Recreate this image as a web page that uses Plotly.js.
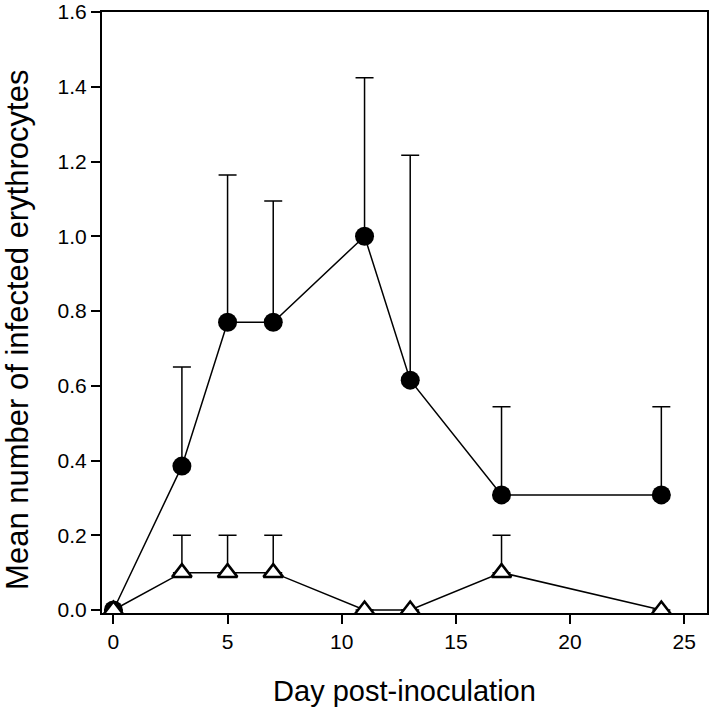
<!DOCTYPE html>
<html>
<head>
<meta charset="utf-8">
<script src="https://cdn.plot.ly/plotly-3.0.1.min.js"></script>
<style>
  html, body { margin: 0; padding: 0; background: #fff; }
  #chart { width: 709px; height: 709px; }
</style>
</head>
<body>
<div id="chart"></div>
<script>
// days sampled
const days = [0, 3, 5, 7, 11, 13, 17, 24];

// infected group (filled circles)
const infectedMean = [0, 0.385, 0.77, 0.77, 1.0, 0.615, 0.308, 0.308];
const infectedErr = [0, 0.265, 0.394, 0.324, 0.424, 0.602, 0.236, 0.236];

// control group (open triangles)
const controlMean = [0, 0.1, 0.1, 0.1, 0, 0, 0.1, 0];
const controlErr = [0, 0.1, 0.1, 0.1, 0, 0, 0.1, 0];

const infected = {
    x: days,
    y: infectedMean,
    type: 'scatter',
    mode: 'lines+markers',
    line: { color: '#000', width: 1.5 },
    marker: { symbol: 'circle', size: 19, color: '#000' },
    error_y: {
        type: 'data',
        symmetric: false,
        array: infectedErr,
        arrayminus: infectedErr.map(() => 0),
        color: '#000',
        thickness: 1.5,
        width: 9
    }
};

const control = {
    x: days,
    y: controlMean,
    type: 'scatter',
    mode: 'lines+markers',
    line: { color: '#000', width: 1.5 },
    marker: {
        symbol: 'triangle-up',
        size: 17,
        color: '#fff',
        line: { color: '#000', width: 2.5 }
    },
    error_y: {
        type: 'data',
        symmetric: false,
        array: controlErr,
        arrayminus: controlErr.map(() => 0),
        color: '#000',
        thickness: 1.5,
        width: 9
    }
};

const tickFont = { family: 'Liberation Sans, Arial, sans-serif', size: 21, color: '#000' };

const layout = {
    width: 709,
    height: 709,
    showlegend: false,
    paper_bgcolor: '#fff',
    plot_bgcolor: '#fff',
    margin: { l: 102, r: 2, t: 12, b: 96 },
    font: tickFont,
    xaxis: {
        range: [-0.5, 26],
        tickvals: [0, 5, 10, 15, 20, 25],
        ticks: 'outside',
        ticklen: 9,
        tickwidth: 1.5,
        tickcolor: '#000',
        showline: true,
        linecolor: '#000',
        linewidth: 2,
        mirror: true,
        showgrid: false,
        zeroline: false,
        tickfont: tickFont,
        title: {
            text: 'Day post-inoculation',
            font: { family: 'Liberation Sans, Arial, sans-serif', size: 29, color: '#000' },
            standoff: 28
        }
    },
    yaxis: {
        range: [-0.008, 1.6],
        tickvals: [0, 0.2, 0.4, 0.6, 0.8, 1.0, 1.2, 1.4, 1.6],
        tickformat: '.1f',
        ticksuffix: '  ',
        ticks: 'outside',
        ticklen: 9,
        tickwidth: 1.5,
        tickcolor: '#000',
        showline: true,
        linecolor: '#000',
        linewidth: 2,
        mirror: true,
        showgrid: false,
        zeroline: false,
        tickfont: tickFont,
        title: {
            text: 'Mean number of infected erythrocytes&nbsp;&nbsp;&nbsp;&nbsp;',
            font: { family: 'Liberation Sans, Arial, sans-serif', size: 31, color: '#000' },
            standoff: 26
        }
    }
};

Plotly.newPlot('chart', [infected, control], layout, { displayModeBar: false });
</script>
</body>
</html>
